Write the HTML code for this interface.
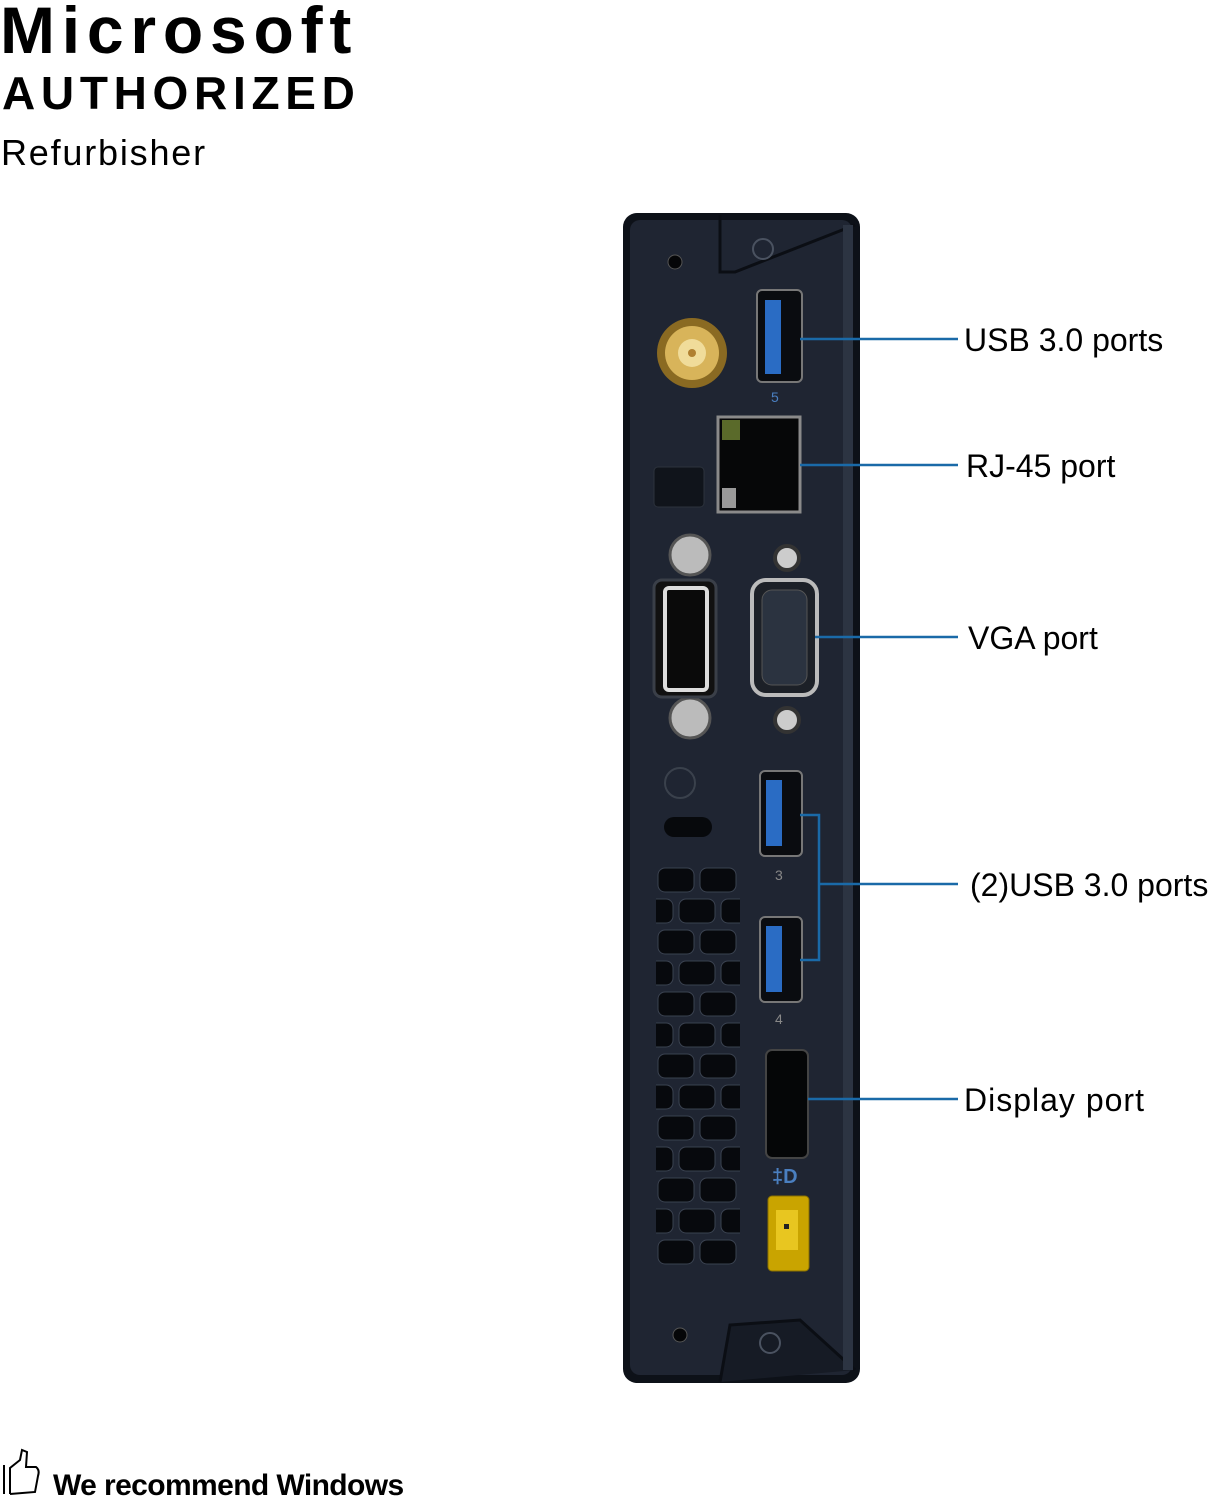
<!DOCTYPE html>
<html><head><meta charset="utf-8"><style>
html,body{margin:0;padding:0;background:#fff;}
body{width:1218px;height:1500px;position:relative;overflow:hidden;font-family:"Liberation Sans",sans-serif;}
.t{position:absolute;white-space:nowrap;color:#000;}
</style></head><body>
<div class="t" style="left:0;top:-8px;font-size:66px;font-weight:bold;letter-spacing:6.8px;">Microsoft</div>
<div class="t" style="left:2px;top:66px;font-size:46px;font-weight:bold;letter-spacing:5.7px;">AUTHORIZED</div>
<div class="t" style="left:1px;top:132px;font-size:36px;letter-spacing:1.8px;">Refurbisher</div>
<svg width="1218" height="1500" style="position:absolute;left:0;top:0" xmlns="http://www.w3.org/2000/svg">
<defs>
<pattern id="v" x="656" y="866" width="84" height="62" patternUnits="userSpaceOnUse">
<rect x="2" y="2" width="36" height="24" rx="7" fill="#07090d" stroke="#3a4250"/>
<rect x="44" y="2" width="36" height="24" rx="7" fill="#07090d" stroke="#3a4250"/>
<rect x="-19" y="33" width="36" height="24" rx="7" fill="#07090d" stroke="#3a4250"/>
<rect x="23" y="33" width="36" height="24" rx="7" fill="#07090d" stroke="#3a4250"/>
<rect x="65" y="33" width="36" height="24" rx="7" fill="#07090d" stroke="#3a4250"/>
</pattern>
</defs>
<rect x="623" y="213" width="237" height="1170" rx="14" fill="#0d1118"/>
<rect x="630" y="220" width="222" height="1155" rx="10" fill="#1f2532"/>
<path d="M720 215 L720 272 L735 272 L855 225" fill="none" stroke="#0b0e14" stroke-width="3"/>
<path d="M720 1382 L730 1325 L800 1320 L855 1370" fill="#161b25" stroke="#0b0e14" stroke-width="3"/>
<rect x="843" y="225" width="10" height="1145" fill="#2c3442"/>
<circle cx="675" cy="262" r="7" fill="#050608" stroke="#555"/>
<circle cx="763" cy="249" r="10" fill="none" stroke="#4a5260" stroke-width="2"/>
<circle cx="680" cy="1335" r="7" fill="#050608" stroke="#555"/>
<circle cx="770" cy="1343" r="10" fill="none" stroke="#4a5260" stroke-width="2"/>
<circle cx="692" cy="353" r="35" fill="#8a6a22"/>
<circle cx="692" cy="353" r="27" fill="#d8b45a"/>
<circle cx="692" cy="353" r="14" fill="#f0dc9a"/>
<circle cx="692" cy="353" r="4" fill="#b08030"/>
<rect x="757" y="290" width="45" height="92" rx="5" fill="#0a0c10" stroke="#777" stroke-width="2"/>
<rect x="765" y="300" width="16" height="74" fill="#2a6cc4"/>
<text x="771" y="402" font-size="14" fill="#4a7fc0">5</text>
<rect x="718" y="417" width="82" height="95" fill="#060708" stroke="#8a8a8a" stroke-width="3"/>
<rect x="722" y="420" width="18" height="20" fill="#5a6a2a"/>
<rect x="722" y="488" width="14" height="20" fill="#999"/>
<rect x="654" y="467" width="50" height="40" rx="4" fill="#10141b" stroke="#2c323c"/>
<circle cx="690" cy="555" r="20" fill="#bbb" stroke="#555" stroke-width="3"/>
<circle cx="690" cy="718" r="20" fill="#bbb" stroke="#555" stroke-width="3"/>
<rect x="654" y="580" width="62" height="117" rx="8" fill="#111" stroke="#3a3f48" stroke-width="3"/>
<rect x="665" y="588" width="42" height="102" rx="4" fill="#0a0a0a" stroke="#ddd" stroke-width="4"/>
<circle cx="787" cy="558" r="12" fill="#ccc" stroke="#333" stroke-width="4"/>
<circle cx="787" cy="720" r="12" fill="#ccc" stroke="#333" stroke-width="4"/>
<rect x="752" y="580" width="65" height="115" rx="14" fill="#1c2027" stroke="#bbb" stroke-width="4"/>
<rect x="762" y="590" width="45" height="95" rx="10" fill="#2b3340" stroke="#555"/>
<circle cx="680" cy="783" r="15" fill="none" stroke="#3a414c" stroke-width="2"/>
<rect x="664" y="817" width="48" height="20" rx="10" fill="#07090c"/>
<rect x="656" y="866" width="84" height="404" fill="url(#v)"/>
<rect x="760" y="771" width="42" height="85" rx="5" fill="#0a0c10" stroke="#777" stroke-width="2"/>
<rect x="766" y="780" width="16" height="66" fill="#2a6cc4"/>
<text x="775" y="880" font-size="14" fill="#888">3</text>
<rect x="760" y="917" width="42" height="85" rx="5" fill="#0a0c10" stroke="#777" stroke-width="2"/>
<rect x="766" y="926" width="16" height="66" fill="#2a6cc4"/>
<text x="775" y="1024" font-size="14" fill="#888">4</text>
<rect x="766" y="1050" width="42" height="108" rx="6" fill="#050607" stroke="#444" stroke-width="2"/>
<text x="772" y="1183" font-size="20" font-weight="bold" fill="#4a7fc0">‡D</text>
<rect x="768" y="1196" width="41" height="75" rx="4" fill="#c9a400" stroke="#8a7000"/>
<rect x="776" y="1210" width="22" height="40" fill="#e8c620"/>
<rect x="784" y="1224" width="5" height="5" fill="#222"/>
<g stroke="#1a6aa8" stroke-width="2.5" fill="none">
<line x1="800" y1="339" x2="958" y2="339"/>
<line x1="800" y1="465" x2="958" y2="465"/>
<line x1="815" y1="637" x2="958" y2="637"/>
<polyline points="800,815 819,815 819,960 800,960"/>
<line x1="819" y1="884" x2="958" y2="884"/>
<line x1="808" y1="1099" x2="958" y2="1099"/>
</g>
<g font-family="Liberation Sans Narrow, Liberation Sans, sans-serif" font-size="32" fill="#000">
<text x="964" y="351">USB 3.0 ports</text>
<text x="966" y="477">RJ-45 port</text>
<text x="968" y="649">VGA port</text>
<text x="970" y="896">(2)USB 3.0 ports</text>
<text x="964" y="1111" letter-spacing="1">Display port</text>
</g>
<path d="M4 1465 L4 1494 M10 1494 L10 1468 L20 1460 L22 1450 L27 1452 L26 1467 L36 1467 Q40 1470 38 1476 L35 1492 L10 1494" fill="none" stroke="#000" stroke-width="2"/>
<text x="53" y="1495" font-size="30" font-weight="bold" letter-spacing="-0.6" fill="#000">We recommend Windows</text>
</svg>
</body></html>
